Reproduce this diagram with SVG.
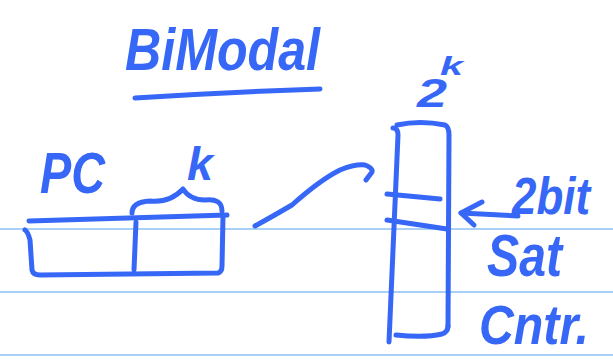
<svg xmlns="http://www.w3.org/2000/svg" width="613" height="360" viewBox="0 0 613 360">
<style>
.rule{stroke:#a9d0f7;stroke-width:2;fill:none}
.ink{stroke:#3767f6;stroke-width:5;fill:none;stroke-linecap:round;stroke-linejoin:round}
.t{fill:#3767f6;font-family:"Liberation Sans",Arial,sans-serif;font-style:italic;font-weight:bold}
</style>
<rect width="613" height="360" fill="#ffffff"/>
<g id="ruled-lines">
<line class="rule" x1="0" y1="229" x2="613" y2="229"/>
<line class="rule" x1="0" y1="292" x2="613" y2="292"/>
<line class="rule" x1="0" y1="355" x2="613" y2="355"/>
</g>
<g id="title">
<text class="t" x="125" y="70" font-size="60" textLength="195" lengthAdjust="spacingAndGlyphs">BiModal</text>
<path class="ink" d="M135 98 Q230 92 320 89"/>
</g>
<g id="pc-register">
<text class="t" x="40" y="193" font-size="58" textLength="65" lengthAdjust="spacingAndGlyphs">PC</text>
<text class="t" x="187" y="180" font-size="46" textLength="26" lengthAdjust="spacingAndGlyphs">k</text>
<path class="ink" d="M132 213 Q132 202 150 201 Q170 203 183 189 Q190 200 205 200 Q222 198 222 211"/>
<path class="ink" d="M29 221 L227 215"/>
<path class="ink" d="M25 230 Q28 232 30 240 L32 270 Q33 275 40 275 L218 273 Q222 272 222 266 L223 216"/>
<path class="ink" d="M136 222 L134 270"/>
</g>
<g id="counter-table">
<text class="t" x="417" y="107" font-size="40" textLength="30" lengthAdjust="spacingAndGlyphs">2</text>
<text class="t" x="440" y="75" font-size="26" textLength="23" lengthAdjust="spacingAndGlyphs">k</text>
<path class="ink" d="M393 128 Q398 128 398 135 L389 342"/>
<path class="ink" d="M397 125 Q420 120 445 125 Q449 127 449 135 L448 327"/>
<path class="ink" d="M396 335 Q425 338 442 334 Q448 332 448 326"/>
<path class="ink" d="M387 194 L440 199"/>
<path class="ink" d="M387 220 L447 229"/>
</g>
<g id="counter-label">
<text class="t" x="512" y="214" font-size="52" textLength="78" lengthAdjust="spacingAndGlyphs">2bit</text>
<text class="t" x="487" y="276" font-size="60" textLength="75" lengthAdjust="spacingAndGlyphs">Sat</text>
<text class="t" x="479" y="344" font-size="56" textLength="110" lengthAdjust="spacingAndGlyphs">Cntr.</text>
</g>
<g id="connectors">
<path class="ink" d="M255 226 Q275 215 292 205 Q320 180 340 170 Q355 164 365 165 Q373 168 372 172 L366 180"/>
<path class="ink" d="M518 216 L461 213"/>
<path class="ink" d="M482 202 L461 213 L474 225"/>
</g>
</svg>
